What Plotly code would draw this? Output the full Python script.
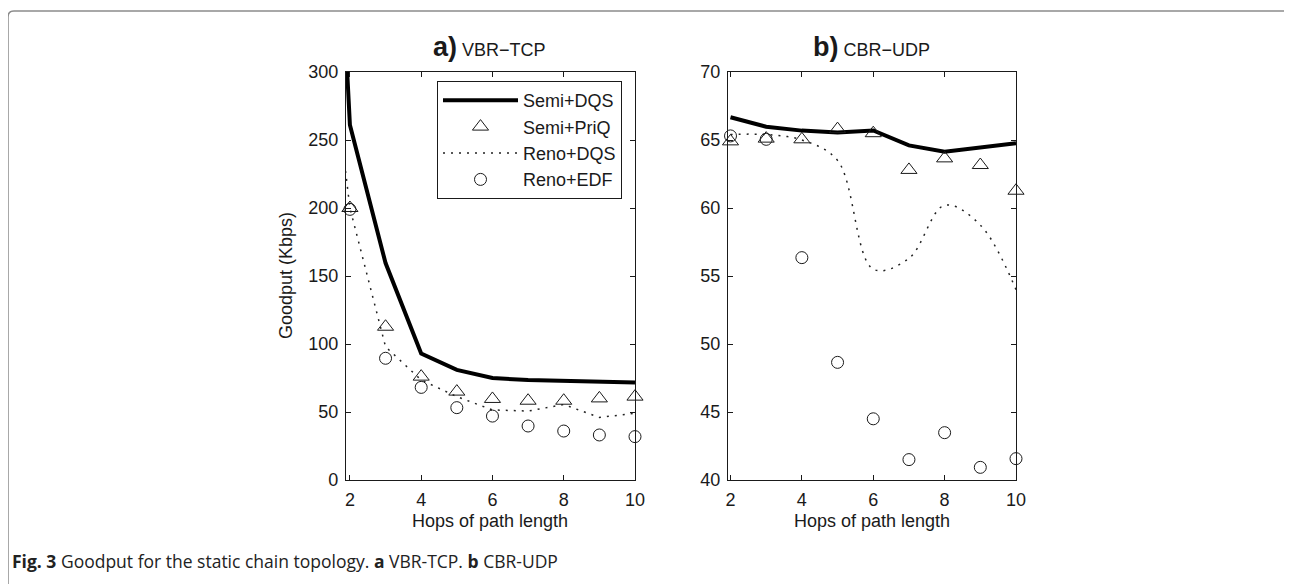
import plotly.graph_objects as go

# ---------------- data ----------------
hops = [2, 3, 4, 5, 6, 7, 8, 9, 10]
hops_ext = [1, 2, 3, 4, 5, 6, 7, 8, 9, 10]

# panel a) VBR-TCP (Kbps)
a_semi_dqs = [770, 261, 159.5, 93, 81, 75, 73.5, 72.8, 72.3, 71.6]
a_reno_dqs = [420, 200, 98, 73.5, 61.3, 51.5, 50.7, 55.5, 46, 49]
a_semi_priq = [200, 112.7, 76, 65, 59.6, 58.3, 58.3, 60, 61.3]
a_reno_edf = [199, 89.5, 68.1, 53.2, 47, 39.7, 36, 33.1, 31.9]

# panel b) CBR-UDP (Kbps)
b_semi_dqs = [66.67, 65.98, 65.69, 65.55, 65.7, 64.6, 64.14, 64.46, 64.76]
b_semi_priq = [64.9, 65.1, 65.05, 65.8, 65.5, 62.8, 63.65, 63.16, 61.27]
b_reno_dqs = [65.4, 65.4, 65.0, 63.5, 55.5, 56.3, 60.2, 58.75, 54.0]
b_reno_edf = [65.3, 65.05, 56.35, 48.65, 44.5, 41.5, 43.48, 40.93, 41.57]

series_names = ["Semi+DQS", "Semi+PriQ", "Reno+DQS", "Reno+EDF"]
x_ticks = [2, 4, 6, 8, 10]
ya_ticks = [0, 50, 100, 150, 200, 250, 300]
yb_ticks = [40, 45, 50, 55, 60, 65, 70]

# ---------------- layout helpers ----------------
W, H = 1292, 584
OFF = 8  # page body margin offset of the plot div
def px(x):
    return (x - OFF) / W
def py(y):
    return 1 - (y - OFF) / H

FONT = "Liberation Sans, Arial, Helvetica, sans-serif"
INK = "#1a1a1a"

fig = go.Figure()

solid = dict(color="#000000", width=4)
dotted = dict(color="#222222", width=1.5, dash="2px,6px")
tri = dict(symbol="triangle-up-open", size=14, color=INK, line=dict(width=1, color=INK))
circ = dict(symbol="circle-open", size=12, color=INK, line=dict(width=1, color=INK))

# panel a
fig.add_trace(go.Scatter(x=hops_ext, y=a_semi_dqs, mode="lines", line=solid,
                         name=series_names[0], xaxis="x", yaxis="y"))
fig.add_trace(go.Scatter(x=hops, y=a_semi_priq, mode="markers", marker=tri,
                         name=series_names[1], xaxis="x", yaxis="y", cliponaxis=False))
fig.add_trace(go.Scatter(x=hops_ext, y=a_reno_dqs, mode="lines", line=dotted,
                         name=series_names[2], xaxis="x", yaxis="y"))
fig.add_trace(go.Scatter(x=hops, y=a_reno_edf, mode="markers", marker=circ,
                         name=series_names[3], xaxis="x", yaxis="y", cliponaxis=False))

# panel b
fig.add_trace(go.Scatter(x=hops, y=b_semi_dqs, mode="lines", line=solid,
                         showlegend=False, xaxis="x2", yaxis="y2"))
fig.add_trace(go.Scatter(x=hops, y=b_semi_priq, mode="markers", marker=tri,
                         showlegend=False, xaxis="x2", yaxis="y2", cliponaxis=False))
fig.add_trace(go.Scatter(x=hops, y=b_reno_dqs, mode="lines",
                         line=dict(color="#222222", width=1.5, dash="2px,6px", shape="spline", smoothing=1.0),
                         showlegend=False, xaxis="x2", yaxis="y2"))
fig.add_trace(go.Scatter(x=hops, y=b_reno_edf, mode="markers", marker=circ,
                         showlegend=False, xaxis="x2", yaxis="y2", cliponaxis=False))

axis_common = dict(
    showline=True, linecolor=INK, linewidth=1.2, mirror="allticks",
    ticks="inside", ticklen=5, tickwidth=1, tickcolor=INK,
    showgrid=False, zeroline=False, automargin=False,
    tickfont=dict(family=FONT, size=18, color=INK),
    ticklabelstandoff=3,
)

fig.update_layout(
    template="none",
    width=W, height=H,
    margin=dict(l=0, r=0, t=0, b=0, pad=0, autoexpand=False),
    paper_bgcolor="white", plot_bgcolor="white",
    font=dict(family=FONT, color=INK),
    xaxis=dict(domain=[px(346), px(635)], range=[1.89, 10], anchor="y",
               tickvals=x_ticks, **axis_common),
    yaxis=dict(domain=[py(480), py(72)], range=[0, 300], anchor="x",
               tickvals=ya_ticks, **axis_common),
    xaxis2=dict(domain=[px(728), px(1016)], range=[1.93, 10], anchor="y2",
                tickvals=x_ticks, **axis_common),
    yaxis2=dict(domain=[py(480), py(72)], range=[40, 70], anchor="x2",
                tickvals=yb_ticks, **axis_common),
    legend=dict(
        x=px(437), y=py(81), xanchor="left", yanchor="top",
        bgcolor="white", bordercolor=INK, borderwidth=1,
        font=dict(family=FONT, size=18, color=INK),
        itemwidth=75, tracegroupgap=0,
    ),
    showlegend=True,
)

annotations = [
    dict(text="<b><span style='font-size:27px'>a)</span></b> VBR\u2212TCP",
         x=px(490), y=py(47), xref="paper", yref="paper", xanchor="center", yanchor="middle",
         showarrow=False, font=dict(family=FONT, size=18, color=INK)),
    dict(text="<b><span style='font-size:27px'>b)</span></b> CBR\u2212UDP",
         x=px(872), y=py(47), xref="paper", yref="paper", xanchor="center", yanchor="middle",
         showarrow=False, font=dict(family=FONT, size=18, color=INK)),
    dict(text="Hops of path length", x=px(490), y=py(521), xref="paper", yref="paper",
         xanchor="center", yanchor="middle", showarrow=False,
         font=dict(family=FONT, size=18, color=INK)),
    dict(text="Hops of path length", x=px(872), y=py(521), xref="paper", yref="paper",
         xanchor="center", yanchor="middle", showarrow=False,
         font=dict(family=FONT, size=18, color=INK)),
    dict(text="Goodput (Kbps)", x=px(286), y=py(276), xref="paper", yref="paper",
         xanchor="center", yanchor="middle", textangle=-90, showarrow=False,
         font=dict(family=FONT, size=18, color=INK)),
    dict(text="<b>Fig. 3</b> Goodput for the static chain topology. <b>a</b> VBR-TCP. <b>b</b> CBR-UDP",
         x=px(10), y=py(561), xref="paper", yref="paper", xanchor="left", yanchor="middle",
         showarrow=False,
         font=dict(family="Open Sans, sans-serif", size=17.5, color="#222222")),
]
fig.update_layout(annotations=annotations)

# figure frame (rounded rectangle open at the bottom)
x0, x1, yt, r = 8, 1289, 11, 6
path = (f"M {px(x0)},{py(H + 20)} L {px(x0)},{py(yt + r)} "
        f"Q {px(x0)},{py(yt)} {px(x0 + r)},{py(yt)} "
        f"L {px(x1 - r)},{py(yt)} Q {px(x1)},{py(yt)} {px(x1)},{py(yt + r)} "
        f"L {px(x1)},{py(H + 20)}")
fig.add_shape(type="path", path=path, xref="paper", yref="paper",
              line=dict(color="#8c8c8c", width=1.5))

fig.write_html("out.html")
